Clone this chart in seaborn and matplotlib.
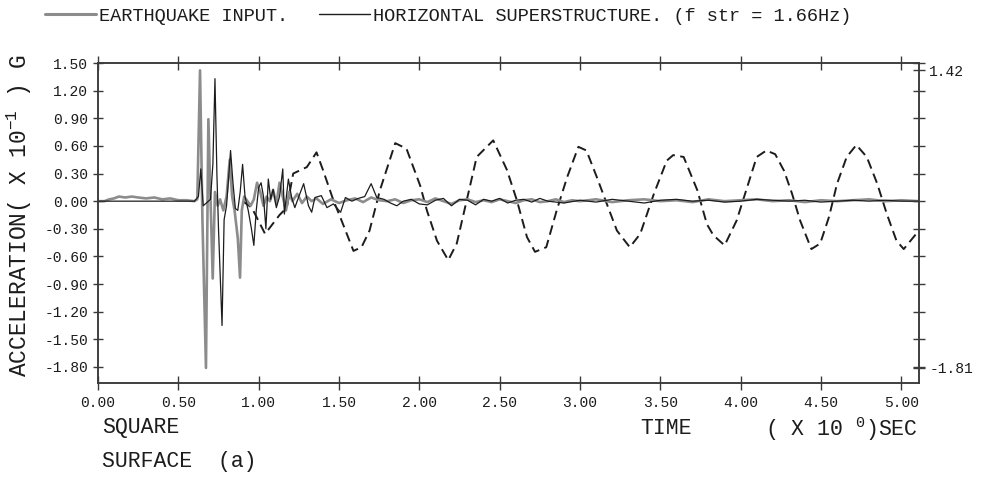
import matplotlib
matplotlib.use("Agg")
import matplotlib.pyplot as plt
from matplotlib.lines import Line2D
import pandas as pd
import seaborn as sns

# ---- data -----------------------------------------------------------------
# earthquake input record (time in s, acceleration in 0.1 G)
input_time = [0.00, 0.04, 0.07, 0.10, 0.13, 0.17, 0.21, 0.25, 0.30, 0.35,
              0.40, 0.45, 0.50, 0.55, 0.60, 0.618, 0.635, 0.650, 0.672, 0.687,
              0.700, 0.714, 0.728, 0.745, 0.760, 0.780, 0.800, 0.820, 0.835, 0.850,
              0.870, 0.884, 0.895, 0.910, 0.930, 0.950, 0.970, 0.990, 1.010, 1.030,
              1.050, 1.070, 1.090, 1.110, 1.130, 1.150, 1.170, 1.190, 1.210, 1.240,
              1.270, 1.300, 1.330, 1.360, 1.400, 1.450, 1.500, 1.550, 1.600, 1.650,
              1.700, 1.750, 1.800, 1.850, 1.900, 1.950, 2.000, 2.050, 2.100, 2.150,
              2.200, 2.250, 2.300, 2.350, 2.400, 2.450, 2.500, 2.550, 2.600, 2.650,
              2.700, 2.750, 2.800, 2.850, 2.900, 2.950, 3.000, 3.100, 3.200, 3.300,
              3.400, 3.500, 3.600, 3.700, 3.800, 3.900, 4.000, 4.100, 4.200, 4.300,
              4.400, 4.500, 4.600, 4.700, 4.800, 4.900, 5.000, 5.110]
input_accel = [0.00, 0.00, 0.02, 0.03, 0.05, 0.04, 0.05, 0.04, 0.03, 0.04,
               0.02, 0.03, 0.01, 0.01, 0.00, 0.02, 1.42, -0.20, -1.81, 0.89,
               0.05, -0.84, 0.10, -0.05, 0.02, -0.10, 0.05, 0.45, 0.05, -0.10,
               -0.40, -0.83, -0.10, 0.05, 0.00, -0.05, 0.02, 0.20, 0.10, -0.05,
               0.05, 0.00, 0.12, -0.03, 0.20, 0.05, -0.10, 0.10, 0.00, 0.08,
               -0.02, 0.05, 0.00, 0.03, -0.03, 0.02, -0.02, 0.01, 0.03, -0.01,
               0.04, 0.01, 0.00, 0.02, -0.02, 0.01, 0.02, -0.01, 0.03, 0.00,
               -0.03, 0.01, 0.02, -0.01, 0.01, -0.01, 0.02, 0.00, -0.02, 0.01,
               0.02, -0.01, 0.00, 0.02, -0.01, 0.01, 0.00, 0.02, -0.01, 0.01,
               0.02, 0.00, 0.01, -0.01, 0.02, 0.00, 0.01, 0.02, 0.00, 0.01,
               -0.01, 0.01, 0.00, 0.01, 0.02, 0.00, 0.01, 0.00]

# horizontal superstructure record
super_time = [0.00, 0.60, 0.625, 0.640, 0.655, 0.700, 0.715, 0.728, 0.740, 0.750,
              0.772, 0.785, 0.800, 0.815, 0.825, 0.840, 0.855, 0.870, 0.885, 0.900,
              0.915, 0.935, 0.955, 0.970, 0.985, 1.000, 1.015, 1.030, 1.045, 1.060,
              1.075, 1.090, 1.110, 1.130, 1.150, 1.160, 1.185, 1.205, 1.225, 1.250,
              1.280, 1.310, 1.330, 1.350, 1.390, 1.425, 1.465, 1.510, 1.540, 1.580,
              1.620, 1.660, 1.700, 1.735, 1.780, 1.820, 1.860, 1.900, 1.950, 2.000,
              2.050, 2.100, 2.150, 2.200, 2.250, 2.300, 2.350, 2.400, 2.450, 2.500,
              2.550, 2.600, 2.650, 2.700, 2.750, 2.800, 2.900, 3.000, 3.100, 3.200,
              3.300, 3.400, 3.500, 3.600, 3.700, 3.800, 3.900, 4.000, 4.100, 4.200,
              4.300, 4.400, 4.500, 4.600, 4.700, 4.800, 4.900, 5.000, 5.110]
super_accel = [0.00, 0.00, 0.05, 0.35, -0.05, 0.02, 0.40, 1.33, 0.30, -0.30,
               -1.35, -0.20, -0.05, 0.30, 0.55, 0.20, -0.08, -0.10, 0.10, 0.40,
               0.05, -0.10, -0.30, -0.48, -0.10, 0.15, 0.20, 0.05, -0.30, 0.24,
               0.02, 0.13, -0.07, 0.05, 0.35, -0.14, 0.24, 0.04, -0.07, 0.05,
               0.19, -0.05, -0.12, 0.04, 0.06, -0.07, -0.03, -0.12, 0.04, 0.00,
               0.03, 0.05, 0.19, 0.04, 0.02, -0.02, -0.05, 0.00, 0.02, -0.03,
               -0.04, 0.01, 0.03, -0.05, 0.02, 0.01, -0.04, 0.02, 0.00, 0.03,
               -0.02, 0.01, 0.02, -0.01, 0.03, 0.00, -0.02, 0.01, -0.01, 0.02,
               0.00, -0.02, 0.01, 0.02, 0.00, 0.01, -0.01, 0.00, 0.02, 0.01,
               0.00, 0.01, -0.01, 0.00, 0.01, 0.00, 0.01, 0.00, 0.00]

# free vibration of the superstructure (dashed trace)
resp_time = [0.90, 0.957, 1.04, 1.13, 1.175, 1.215, 1.30, 1.36, 1.40, 1.465,
             1.507, 1.59, 1.64, 1.69, 1.755, 1.85, 1.92, 2.005, 2.047, 2.11,
             2.18, 2.233, 2.295, 2.357, 2.46, 2.545, 2.607, 2.67, 2.72, 2.79,
             2.855, 2.92, 2.99, 3.04, 3.105, 3.167, 3.23, 3.31, 3.375, 3.46,
             3.54, 3.58, 3.645, 3.73, 3.79, 3.83, 3.90, 3.975, 4.06, 4.10,
             4.16, 4.215, 4.27, 4.32, 4.37, 4.44, 4.495, 4.55, 4.60, 4.66,
             4.72, 4.785, 4.85, 4.91, 4.97, 5.015, 5.09]
resp_accel = [0.00, -0.07, -0.355, -0.15, -0.07, 0.30, 0.37, 0.53, 0.34, 0.01,
              -0.17, -0.54, -0.50, -0.32, 0.12, 0.63, 0.57, 0.17, -0.10, -0.43,
              -0.64, -0.46, 0.01, 0.48, 0.66, 0.34, 0.01, -0.39, -0.55, -0.50,
              -0.10, 0.26, 0.59, 0.55, 0.26, -0.03, -0.32, -0.50, -0.355, 0.08,
              0.44, 0.50, 0.48, 0.12, -0.25, -0.37, -0.48, -0.21, 0.26, 0.48,
              0.55, 0.51, 0.33, 0.08, -0.21, -0.52, -0.46, -0.17, 0.19, 0.48,
              0.61, 0.48, 0.19, -0.14, -0.43, -0.52, -0.36]

x_ticks = [0.0, 0.5, 1.0, 1.5, 2.0, 2.5, 3.0, 3.5, 4.0, 4.5, 5.0]
x_tick_labels = ["0.00", "0.50", "1.00", "1.50", "2.00", "2.50",
                 "3.00", "3.50", "4.00", "4.50", "5.00"]
y_ticks = [1.5, 1.2, 0.9, 0.6, 0.3, 0.0, -0.3, -0.6, -0.9, -1.2, -1.5, -1.8]
y_tick_labels = ["1.50", "1.20", "0.90", "0.60", "0.30", "0.00",
                 "-0.30", "-0.60", "-0.90", "-1.20", "-1.50", "-1.80"]

legend_labels = ["EARTHQUAKE INPUT.",
                 "HORIZONTAL SUPERSTRUCTURE. (f str = 1.66Hz)"]

# ---- style ----------------------------------------------------------------
sns.set_style("ticks")
plt.rcParams["font.family"] = ["Liberation Mono", "DejaVu Sans Mono"]
plt.rcParams["mathtext.fontset"] = "custom"
plt.rcParams["mathtext.rm"] = "Liberation Mono"
plt.rcParams["mathtext.it"] = "Liberation Mono"
plt.rcParams["mathtext.bf"] = "Liberation Mono"

INK = "#1c1c1c"
SPINE = "#3a3a3a"
GREY = "#8c8c8c"

W, H = 986, 479
fig = plt.figure(figsize=(W / 100, H / 100), dpi=100)
fig.patch.set_facecolor("white")
ax = fig.add_axes([98 / W, 1 - 383 / H, (919 - 98) / W, (383 - 63) / H])

df_in = pd.DataFrame({"time": input_time, "accel": input_accel})
df_sup = pd.DataFrame({"time": super_time, "accel": super_accel})
df_resp = pd.DataFrame({"time": resp_time, "accel": resp_accel})

sns.lineplot(data=df_resp, x="time", y="accel", ax=ax, color=INK, lw=1.4,
             linestyle=(0, (5.0, 2.8)), estimator=None, legend=False)
sns.lineplot(data=df_in, x="time", y="accel", ax=ax, color=GREY, lw=1.9,
             estimator=None, legend=False)
sns.lineplot(data=df_sup, x="time", y="accel", ax=ax, color=INK, lw=0.9,
             estimator=None, legend=False)

ax.set_xlim(0, 5.11)
ax.set_ylim(-1.974, 1.5)
ax.set_xlabel("")
ax.set_ylabel("")

ax.set_xticks(x_ticks)
ax.set_xticklabels(x_tick_labels)
ax.set_yticks(y_ticks)
ax.set_yticklabels(y_tick_labels)

for s in ax.spines.values():
    s.set_color(SPINE)
    s.set_linewidth(1.1)

ax.tick_params(axis="x", direction="inout", length=10.5, width=1.0,
               color=SPINE, top=True, labeltop=False, pad=4,
               labelsize=10.5, labelcolor=INK)
ax.tick_params(axis="y", direction="inout", length=7.5, width=1.0,
               color=SPINE, pad=3.5, labelsize=10.5, labelcolor=INK)

# right-hand scale marking the extreme input values
ax2 = ax.twinx()
ax2.set_ylim(ax.get_ylim())
peak_hi = max(input_accel)
peak_lo = min(input_accel)
ax2.set_yticks(y_ticks + [peak_hi, peak_lo])
ax2.set_yticklabels([""] * len(y_ticks) + [f"{peak_hi:.2f}", f"{peak_lo:.2f}"])
ax2.tick_params(axis="y", direction="inout", length=9, width=1.0,
                color=SPINE, pad=3, labelsize=10.5, labelcolor=INK)
for s in ax2.spines.values():
    s.set_color(SPINE)
    s.set_linewidth(1.1)

# axis titles
fig.text(19 / W, 1 - 216 / H, "ACCELERATION( X 10$\\mathregular{^{-1}}$ ) G",
         fontsize=16.5, color=INK, rotation=90, ha="center", va="center")

fig.text(102 / W, 1 - 427 / H, "SQUARE", fontsize=15.5, color=INK,
         ha="left", va="center")
fig.text(640 / W, 1 - 429 / H, "TIME", fontsize=15.5, color=INK,
         ha="left", va="center")
fig.text(918 / W, 1 - 429 / H, "( X 10 $\\mathregular{^0}$)SEC", fontsize=15.5,
         color=INK, ha="right", va="center")
fig.text(102 / W, 1 - 462 / H, "SURFACE  (a)", fontsize=15.5, color=INK,
         ha="left", va="center")

# key across the top
handles = [Line2D([], [], color=GREY, lw=2.2),
           Line2D([], [], color=INK, lw=1.0)]
fig.legend(handles, legend_labels, loc="center left",
           bbox_to_anchor=(45 / W, 1 - 16 / H), bbox_transform=fig.transFigure,
           ncol=2, frameon=False, borderpad=0, borderaxespad=0,
           handlelength=2.75, handletextpad=0.15, columnspacing=1.65,
           fontsize=13.4, labelcolor=INK)

fig.savefig("out.png", dpi=100, facecolor="white")
